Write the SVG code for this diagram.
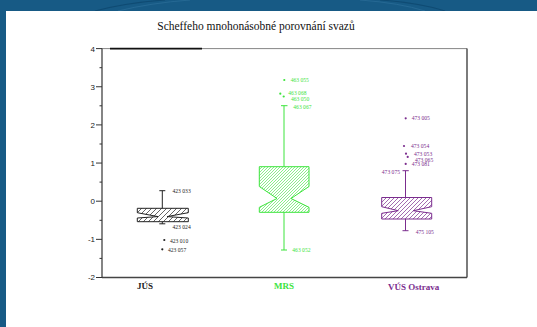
<svg xmlns="http://www.w3.org/2000/svg" width="537" height="327" viewBox="0 0 537 327">
<style>
.tick{stroke:#333;stroke-width:1}
.tl{font-family:"Liberation Sans",Arial,sans-serif;font-size:8px;fill:#222;text-anchor:end}
.dl{font-family:"Liberation Serif","Times New Roman",serif;font-size:5.6px}
.cat{font-family:"Liberation Serif","Times New Roman",serif;font-size:9px;font-weight:bold;text-anchor:middle}
.jus{stroke:#222;fill:#222}
.mrs{stroke:#3de43d;fill:#3de43d}
.vus{stroke:#7b2d8e;fill:#7b2d8e}
.ln{stroke-width:1;fill:none}
.dl,.cat{stroke:none}
</style>
<defs>
<pattern id="hJ" width="5" height="5" patternUnits="userSpaceOnUse"><path d="M-1,1 l2,-2 M0,5 l5,-5 M4,6 l2,-2" stroke="#222" stroke-width="0.7"/></pattern>
<pattern id="hM" width="3" height="3" patternUnits="userSpaceOnUse"><path d="M-1,1 l2,-2 M0,3 l3,-3 M2,4 l2,-2" stroke="#3de43d" stroke-width="0.6"/></pattern>
<pattern id="hV" width="4" height="4" patternUnits="userSpaceOnUse"><path d="M-1,1 l2,-2 M0,4 l4,-4 M3,5 l2,-2" stroke="#7b2d8e" stroke-width="0.7"/></pattern>
</defs>
<rect x="0" y="0" width="537" height="327" fill="#175a85"/>
<path d="M95,11 Q125,3 165,0" stroke="#0f4b73" stroke-width="1.2" fill="none"/>
<path d="M118,11 Q150,3 190,0" stroke="#2a6c97" stroke-width="0.8" fill="none"/>
<path d="M380,0 Q420,3 445,11" stroke="#0f4b73" stroke-width="1.2" fill="none"/>
<path d="M360,0 Q400,3 425,11" stroke="#2a6c97" stroke-width="0.8" fill="none"/>
<rect x="6" y="11" width="531" height="316" fill="#ffffff"/>
<g id="title"><text x="256" y="30" font-family="Liberation Serif,'Times New Roman',serif" font-size="11.5" fill="#111" text-anchor="middle">Scheffeho mnohonásobné porovnání svazů</text></g>
<g id="axes">
<line x1="102" y1="48.6" x2="467" y2="48.6" stroke="#666" stroke-width="0.8"/>
<line x1="110" y1="48.6" x2="202" y2="48.6" stroke="#111" stroke-width="1.6"/>
<line x1="467" y1="48.6" x2="467" y2="277.5" stroke="#444" stroke-width="1.4"/>
<line x1="102" y1="277.5" x2="467" y2="277.5" stroke="#444" stroke-width="1.4"/>
<line x1="102" y1="48.6" x2="102" y2="277.5" stroke="#333" stroke-width="1.2"/>
<g class="tick">
<line x1="96" y1="48.6" x2="102" y2="48.6"/><line x1="96" y1="86.75" x2="102" y2="86.75"/><line x1="96" y1="124.9" x2="102" y2="124.9"/><line x1="96" y1="163.05" x2="102" y2="163.05"/><line x1="96" y1="201.2" x2="102" y2="201.2"/><line x1="96" y1="239.35" x2="102" y2="239.35"/><line x1="96" y1="277.5" x2="102" y2="277.5"/>
<line x1="99.5" y1="67.7" x2="102" y2="67.7"/><line x1="99.5" y1="105.8" x2="102" y2="105.8"/><line x1="99.5" y1="144" x2="102" y2="144"/><line x1="99.5" y1="182.1" x2="102" y2="182.1"/><line x1="99.5" y1="220.3" x2="102" y2="220.3"/><line x1="99.5" y1="258.4" x2="102" y2="258.4"/>
</g>
<text class="tl" x="95" y="51.5">4</text><text class="tl" x="95" y="89.6">3</text><text class="tl" x="95" y="127.8">2</text><text class="tl" x="95" y="165.9">1</text><text class="tl" x="95" y="204.1">0</text><text class="tl" x="95" y="242.2">-1</text><text class="tl" x="95" y="280.4">-2</text>
</g>
<g id="node-jus" class="jus">
<line class="ln" x1="162.3" y1="190.7" x2="162.3" y2="208.3"/>
<line class="ln" x1="159.3" y1="190.7" x2="165.3" y2="190.7"/>
<line class="ln" x1="162.3" y1="221.7" x2="162.3" y2="223.8"/>
<line class="ln" x1="159.3" y1="223.8" x2="165.3" y2="223.8"/>
<polygon points="137.3,208.3 188.3,208.3 188.3,212.7 167,216.6 188.3,218 188.3,221.7 137.3,221.7 137.3,218 158,216.6 137.3,212.7" fill="url(#hJ)" stroke="#222" stroke-width="1"/>
<circle cx="164.3" cy="240" r="1.1" stroke="none"/>
<circle cx="162.3" cy="249.3" r="1.1" stroke="none"/>
<text class="dl" x="172.5" y="192.7">423 033</text>
<text class="dl" x="172.5" y="228.7">423 024</text>
<text class="dl" x="170" y="242.8">423 010</text>
<text class="dl" x="168" y="252">423 057</text>
<text class="cat" x="145" y="289">JÚS</text>
</g>
<g id="node-mrs" class="mrs">
<line class="ln" x1="284" y1="105.7" x2="284" y2="166.7"/>
<line class="ln" x1="281" y1="105.7" x2="287.5" y2="105.7"/>
<line class="ln" x1="284" y1="212.3" x2="284" y2="250"/>
<line class="ln" x1="281" y1="250" x2="287" y2="250"/>
<polygon points="259.3,166.7 309,166.7 309,186.5 291,198.5 309,207.3 309,212.3 259.3,212.3 259.3,207.3 277,198.5 259.3,186.5" fill="url(#hM)" stroke="#3de43d" stroke-width="1"/>
<circle cx="284.3" cy="80" r="1.1" stroke="none"/>
<circle cx="280.3" cy="93.7" r="1.1" stroke="none"/>
<circle cx="283.7" cy="96.5" r="1.1" stroke="none"/>
<text class="dl" x="290.7" y="82">463 055</text>
<text class="dl" x="288.3" y="94.7">463 068</text>
<text class="dl" x="291" y="100.7">463 050</text>
<text class="dl" x="293.3" y="109.3">463 067</text>
<text class="dl" x="292.3" y="252.3">463 052</text>
<text class="cat" x="284" y="289">MRS</text>
</g>
<g id="node-vus" class="vus">
<line class="ln" x1="405.5" y1="170.7" x2="405.5" y2="197.5"/>
<line class="ln" x1="402.5" y1="170.7" x2="408.8" y2="170.7"/>
<line class="ln" x1="405.5" y1="219" x2="405.5" y2="230.7"/>
<line class="ln" x1="402.5" y1="230.7" x2="408.5" y2="230.7"/>
<polygon points="381.7,197.5 431.7,197.5 431.7,206.7 413.3,210.7 431.7,213.3 431.7,219 381.7,219 381.7,213.3 398.3,210.7 381.7,206.7" fill="url(#hV)" stroke="#7b2d8e" stroke-width="1"/>
<circle cx="405.7" cy="118.3" r="1.1" stroke="none"/>
<circle cx="404" cy="146" r="1.1" stroke="none"/>
<circle cx="406" cy="153.7" r="1.1" stroke="none"/>
<circle cx="407.7" cy="156.9" r="1.1" stroke="none"/>
<circle cx="405.7" cy="163.9" r="1.1" stroke="none"/>
<text class="dl" x="411.7" y="120.3">473 005</text>
<text class="dl" x="411" y="148">473 054</text>
<text class="dl" x="414" y="155.7">473 053</text>
<text class="dl" x="415" y="161.7">473 065</text>
<text class="dl" x="411.7" y="166.3">473 081</text>
<text class="dl" x="400" y="173.5" text-anchor="end">473 075</text>
<text class="dl" x="415.7" y="233.5">475 105</text>
<text class="cat" x="413.7" y="290">VÚS Ostrava</text>
</g>
</svg>
